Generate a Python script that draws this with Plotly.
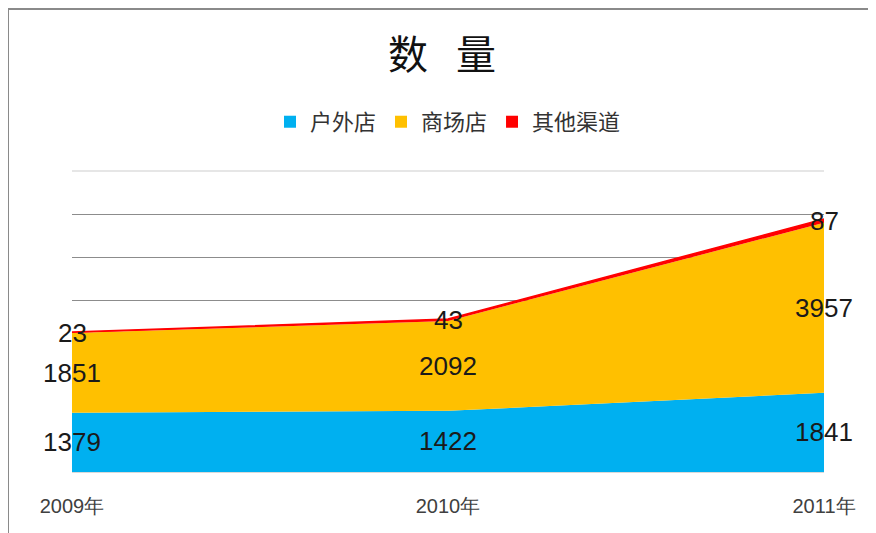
import plotly.graph_objects as go

years = ["2009年", "2010年", "2011年"]
series_names = ["户外店", "商场店", "其他渠道"]
outdoor = [1379, 1422, 1841]
mall = [1851, 2092, 3957]
other = [23, 43, 87]
colors = ["#00B0F0", "#FFC000", "#FF0000"]

values = [outdoor, mall, other]

fig = go.Figure()
for name, vals, col in zip(series_names, values, colors):
    fig.add_trace(go.Scatter(
        x=years, y=vals, name=name, mode="lines",
        stackgroup="one", fillcolor=col,
        line=dict(color=col, width=1.5 if name == "其他渠道" else 0),
        hoverinfo="x+y+name", showlegend=False,
    ))
# legend entries with square swatches
for name, col in zip(series_names, colors):
    fig.add_trace(go.Scatter(
        x=[None], y=[None], name=name, mode="markers",
        marker=dict(symbol="square", size=12, color=col), showlegend=True,
    ))

# data labels at band midpoints
annotations = []
base = [0, 0, 0]
for vals in values:
    for i, v in enumerate(vals):
        annotations.append(dict(
            x=years[i], y=base[i] + v / 2, text=str(v), showarrow=False,
            font=dict(family="Liberation Sans, Arial, sans-serif", size=26, color="#1a1a1a"),
            xanchor="center", yanchor="middle",
        ))
    base = [b + v for b, v in zip(base, vals)]

# page body has an 8px margin; figure is sized/offset to compensate
W, H = 868, 525
fig.update_layout(
    width=W, height=H,
    margin=dict(l=64, r=52, t=163, b=61),
    paper_bgcolor="white", plot_bgcolor="white",
    title=dict(text="数\u2002\u2009量", x=0.5, xanchor="center", y=1 - 47 / H, yanchor="middle",
               font=dict(family="Noto Sans CJK SC", size=40, color="#111111")),
    legend=dict(orientation="h", x=0.5, xanchor="center", y=1.163, yanchor="middle",
                traceorder="normal",
                font=dict(family="Noto Sans CJK SC", size=22, color="#333333"),
                itemwidth=30, tracegroupgap=0),
    showlegend=True,
    annotations=annotations,
    xaxis=dict(type="category", range=[0, 2], showgrid=False, zeroline=False,
               showline=True, linecolor="#d9d9d9", linewidth=1,
               ticks="", ticklabelstandoff=16,
               tickfont=dict(family="Liberation Sans, Arial, sans-serif", size=20, color="#404040")),
    yaxis=dict(range=[0, 7000], tickvals=[1000, 2000, 3000, 4000, 5000, 6000],
               showticklabels=False, showgrid=True, gridcolor="#8c8c8c", gridwidth=1,
               zeroline=False, showline=False),
    shapes=[
        dict(type="line", xref="paper", yref="paper", x0=0, x1=1, y0=1, y1=1,
             line=dict(color="#e6e6e6", width=2), layer="below"),
        dict(type="rect", xref="paper", yref="paper",
             x0=(8 - 72) / 752, x1=(890 - 72) / 752,
             y0=(472 - 545) / 301, y1=(472 - 9) / 301,
             line=dict(color="#8a8a8a", width=2), fillcolor="rgba(0,0,0,0)", layer="above"),
    ],
)

fig.write_html("out.html")
